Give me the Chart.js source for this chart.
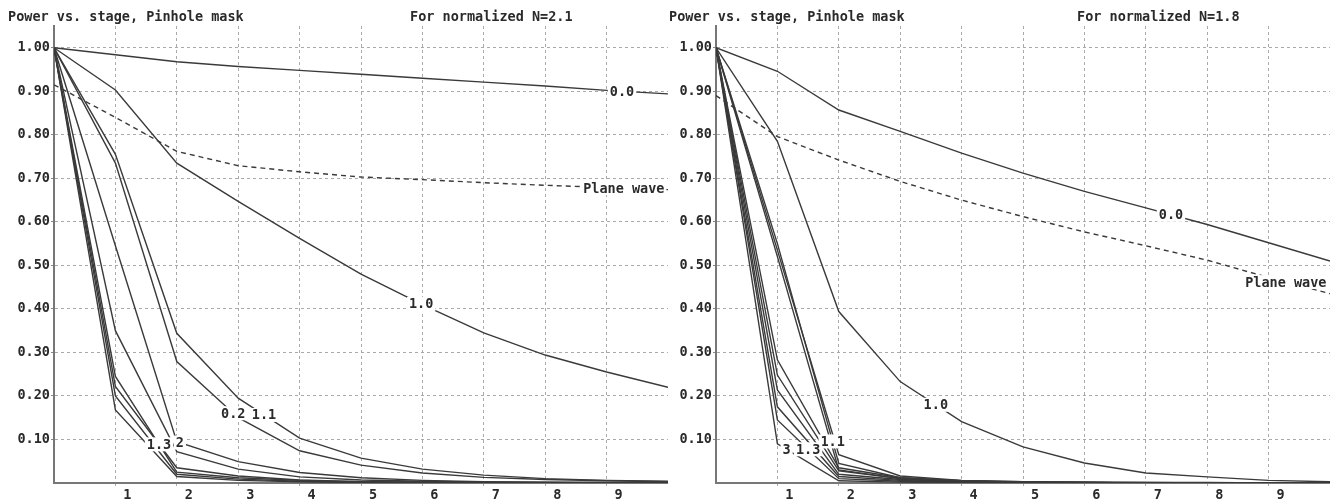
<!DOCTYPE html>
<html>
<head>
<meta charset="utf-8">
<script src="https://cdn.jsdelivr.net/npm/chart.js@4.4.1/dist/chart.umd.min.js"></script>
<style>
  body { margin: 0; background: #fff; width: 1330px; height: 504px; position: relative; overflow: hidden; }
  canvas { position: absolute; top: 0; }
  .t { position: absolute; top: 8px; white-space: pre; font: bold 13.5px "DejaVu Sans Mono", monospace; color: #2a2a2a; }
</style>
</head>
<body>
<canvas id="left" width="668" height="504" style="left:0"></canvas>
<canvas id="right" width="662" height="504" style="left:668px"></canvas>
<div class="t" style="left:8px">Power vs. stage, Pinhole mask</div>
<div class="t" style="left:410px">For normalized N=2.1</div>
<div class="t" style="left:669px">Power vs. stage, Pinhole mask</div>
<div class="t" style="left:1077px">For normalized N=1.8</div>
<script>
const stages = [0, 1, 2, 3, 4, 5, 6, 7, 8, 9, 10];
const xTicks = [1, 2, 3, 4, 5, 6, 7, 8, 9];
const yTicks = [0.1, 0.2, 0.3, 0.4, 0.5, 0.6, 0.7, 0.8, 0.9, 1.0];

// N=2.1 panel
const leftZero  = [1.00, 0.984, 0.968, 0.957, 0.948, 0.939, 0.930, 0.921, 0.912, 0.902, 0.894];
const leftPlane = [0.915, 0.840, 0.762, 0.729, 0.715, 0.703, 0.697, 0.690, 0.684, 0.679, 0.674];
const leftOne   = [1.00, 0.903, 0.735, 0.647, 0.562, 0.480, 0.410, 0.345, 0.294, 0.255, 0.220];
const left11    = [1.00, 0.755, 0.344, 0.195, 0.103, 0.057, 0.032, 0.018, 0.010, 0.006, 0.004];
const left02    = [1.00, 0.735, 0.279, 0.150, 0.074, 0.041, 0.023, 0.013, 0.008, 0.005, 0.003];
const left2     = [1.00, 0.545, 0.095, 0.049, 0.024, 0.012, 0.006, 0.003, 0.002, 0.001, 0.001];
const leftA     = [1.00, 0.350, 0.072, 0.032, 0.014, 0.007, 0.004, 0.002, 0.001, 0.001, 0.000];
const left13    = [1.00, 0.245, 0.025, 0.012, 0.006, 0.003, 0.002, 0.001, 0.001, 0.000, 0.000];
const leftB     = [1.00, 0.222, 0.035, 0.016, 0.007, 0.003, 0.002, 0.001, 0.000, 0.000, 0.000];
const leftC     = [1.00, 0.200, 0.020, 0.009, 0.004, 0.002, 0.001, 0.000, 0.000, 0.000, 0.000];
const leftD     = [1.00, 0.168, 0.015, 0.006, 0.003, 0.001, 0.000, 0.000, 0.000, 0.000, 0.000];

// N=1.8 panel
const rightZero  = [1.00, 0.946, 0.857, 0.808, 0.758, 0.712, 0.670, 0.632, 0.594, 0.552, 0.510];
const rightPlane = [0.890, 0.796, 0.742, 0.693, 0.650, 0.612, 0.577, 0.545, 0.512, 0.472, 0.435];
const rightOne   = [1.00, 0.785, 0.394, 0.233, 0.141, 0.083, 0.046, 0.023, 0.014, 0.006, 0.003];
const right11    = [1.00, 0.550, 0.045, 0.012, 0.005, 0.003, 0.002, 0.001, 0.001, 0.000, 0.000];
const rightA     = [1.00, 0.535, 0.065, 0.016, 0.006, 0.003, 0.002, 0.001, 0.000, 0.000, 0.000];
const rightB     = [1.00, 0.520, 0.030, 0.010, 0.004, 0.002, 0.001, 0.000, 0.000, 0.000, 0.000];
const rightC     = [1.00, 0.283, 0.035, 0.012, 0.005, 0.002, 0.001, 0.000, 0.000, 0.000, 0.000];
const rightD     = [1.00, 0.248, 0.028, 0.010, 0.004, 0.002, 0.001, 0.000, 0.000, 0.000, 0.000];
const rightE     = [1.00, 0.214, 0.020, 0.008, 0.003, 0.001, 0.000, 0.000, 0.000, 0.000, 0.000];
const rightF     = [1.00, 0.175, 0.015, 0.006, 0.002, 0.001, 0.000, 0.000, 0.000, 0.000, 0.000];
const right13    = [1.00, 0.145, 0.010, 0.004, 0.002, 0.001, 0.000, 0.000, 0.000, 0.000, 0.000];
const right3     = [1.00, 0.090, 0.005, 0.002, 0.001, 0.000, 0.000, 0.000, 0.000, 0.000, 0.000];

const FONT = { family: "'DejaVu Sans Mono', monospace", size: 13.5, weight: 'bold' };
const INK = '#2a2a2a';

// text written on a curve, at a stage position along it
function labelPlugin(marks) {
  return {
    id: 'curveLabels',
    afterDatasetsDraw(chart) {
      const { ctx, scales: { x, y } } = chart;
      ctx.save();
      ctx.font = `bold ${FONT.size}px ${FONT.family}`;
      ctx.textAlign = 'center';
      ctx.textBaseline = 'middle';
      marks.forEach(m => {
        const i = Math.floor(m.at), f = m.at - i;
        const v = m.values[i] + (m.values[i + 1] - m.values[i]) * f;
        const px = x.getPixelForValue(m.at), py = y.getPixelForValue(v);
        const w = ctx.measureText(m.text).width;
        ctx.fillStyle = '#fff';
        ctx.fillRect(px - w / 2 - 2, py - 7, w + 4, 14);
        ctx.fillStyle = INK;
        ctx.fillText(m.text, px, py + 1);
      });
      ctx.restore();
    }
  };
}

function makeChart(id, series, marks, axisWidth) {
  const datasets = series.map(s => ({
    data: s.values.map((v, i) => ({ x: stages[i], y: v })),
    borderColor: '#3a3a3a',
    borderWidth: 1.4,
    borderDash: s.dashed ? [5, 4] : [],
    pointRadius: 0,
    tension: 0,
    fill: false
  }));
  return new Chart(document.getElementById(id), {
    type: 'line',
    data: { datasets },
    plugins: [labelPlugin(marks)],
    options: {
      responsive: false,
      animation: false,
      layout: { padding: { top: 26, right: 0, left: 0, bottom: 0 } },
      plugins: { legend: { display: false }, tooltip: { enabled: false } },
      scales: {
        x: {
          type: 'linear', min: 0, max: 10,
          afterBuildTicks: sc => { sc.ticks = xTicks.map(v => ({ value: v })); },
          afterFit: sc => { sc.height = 21; },
          grid: { color: '#aaa', tickLength: 3, tickColor: '#aaa' },
          border: { color: '#777', width: 2, dash: [3, 3] },
          ticks: { labelOffset: 12, padding: 1, maxRotation: 0, autoSkip: false, color: INK, font: FONT,
                   callback: v => String(v) }
        },
        y: {
          min: 0, max: 1.05,
          afterBuildTicks: sc => { sc.ticks = yTicks.map(v => ({ value: v })); },
          afterFit: sc => { sc.width = axisWidth; },
          grid: { color: '#aaa', tickLength: 3, tickColor: '#888' },
          border: { color: '#777', width: 2, dash: [3, 3] },
          ticks: { padding: 1, autoSkip: false, color: INK, font: FONT, callback: v => v.toFixed(2) }
        }
      }
    }
  });
}

makeChart('left', [
  { values: leftZero }, { values: leftPlane, dashed: true }, { values: leftOne },
  { values: left11 }, { values: left02 }, { values: left2 }, { values: leftA },
  { values: left13 }, { values: leftB }, { values: leftC }, { values: leftD }
], [
  { text: '0.0', values: leftZero, at: 9.25 },
  { text: 'Plane wave', values: leftPlane, at: 9.28 },
  { text: '1.0', values: leftOne, at: 5.98 },
  { text: '0.2', values: left02, at: 2.92 },
  { text: '1.1', values: left11, at: 3.42 },
  { text: '1.3', values: left13, at: 1.71 },
  { text: '2', values: left2, at: 2.05 }
], 54);

makeChart('right', [
  { values: rightZero }, { values: rightPlane, dashed: true }, { values: rightOne },
  { values: right11 }, { values: rightA }, { values: rightB }, { values: rightC },
  { values: rightD }, { values: rightE }, { values: rightF }, { values: right13 }, { values: right3 }
], [
  { text: '0.0', values: rightZero, at: 7.41 },
  { text: 'Plane wave', values: rightPlane, at: 9.28 },
  { text: '1.0', values: rightOne, at: 3.58 },
  { text: '1.1', values: right11, at: 1.9 },
  { text: '1.3', values: right13, at: 1.5 },
  { text: '3', values: right3, at: 1.15 }
], 48);
</script>
</body>
</html>
